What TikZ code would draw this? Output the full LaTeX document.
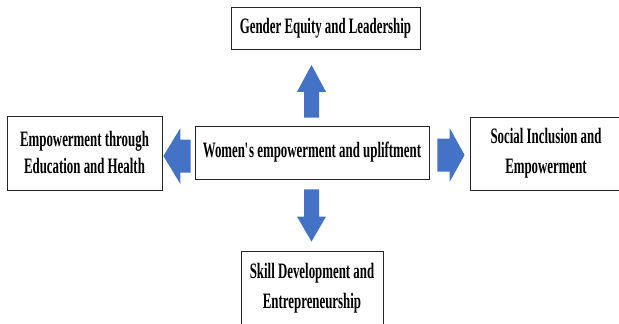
\documentclass[tikz,border=0pt]{standalone}
\usepackage{fontspec}
\setmainfont{Liberation Serif}[FakeStretch=0.585]
\usetikzlibrary{calc}
\definecolor{arrowfill}{HTML}{4472C4}
\definecolor{arrowline}{HTML}{2F528F}
\newcommand{\blockarrow}[5]{% start, tip, shaft half width, head half width, head length
  \coordinate (hb) at ($(#2)!#5!(#1)$);
  \fill[arrowfill] ($(#1)!#3!90:(#2)$) -- ($(hb)!#3!-90:(#1)$) -- ($(hb)!#4!-90:(#1)$) -- (#2)
    -- ($(hb)!#4!90:(#1)$) -- ($(hb)!#3!90:(#1)$) -- ($(#1)!#3!-90:(#2)$) -- cycle;
}
\begin{document}
\begin{tikzpicture}[x=1pt,y=-1pt,
  box/.style={draw=black!85, line width=0.8pt, inner sep=0pt, align=center,
    font=\bfseries\fontsize{22}{28}\selectfont},
]
\useasboundingbox (0,0) rectangle (619,324);
\node[box, minimum width=189pt, minimum height=42pt] (top) at (325.5,28.5) {Gender Equity and Leadership};
\node[box, minimum width=234pt, minimum height=53pt] (mid) at (312,152.5) {Women\kern-0.5pt\textquotesingle\kern-1.5pt s empowerment and upliftment};
\node[box, minimum width=155pt, minimum height=74pt, font=\bfseries\fontsize{22}{27}\selectfont] (left) at (84.5,153) {Empowerment through\\Education and Health};
\node[box, minimum width=152pt, minimum height=73pt, font=\bfseries\fontsize{22}{30}\selectfont] (right) at (546,153.5) {Social Inclusion and\\Empowerment};
\node[box, minimum width=142pt, minimum height=74pt, font=\bfseries\fontsize{22}{30}\selectfont] (bottom) at (312,288) {Skill Development and\\Entrepreneurship};
% arrows
\coordinate (us) at ($(mid.north)+(-0.5,-8)$);
\coordinate (ut) at ($(top.south)+(0,15)$);
\coordinate (ut) at (us |- ut);
\coordinate (ds) at ($(mid.south)+(-0.5,10)$);
\coordinate (dt) at ($(bottom.north)+(0,-9)$);
\coordinate (dt) at (ds |- dt);
\coordinate (ls) at ($(mid.west)+(-4,3.5)$);
\coordinate (lt) at ($(left.east)+(1,0)$);
\coordinate (lt) at (lt |- ls);
\coordinate (rs) at ($(mid.east)+(8,2.5)$);
\coordinate (rt) at ($(right.west)+(-5,0)$);
\coordinate (rt) at (rt |- rs);
\blockarrow{us}{ut}{7.5pt}{14.5pt}{27pt}
\blockarrow{ds}{dt}{7.5pt}{14.5pt}{25pt}
\blockarrow{ls}{lt}{16.5pt}{28pt}{17pt}
\blockarrow{rs}{rt}{16.5pt}{27pt}{15pt}
\end{tikzpicture}
\end{document}
